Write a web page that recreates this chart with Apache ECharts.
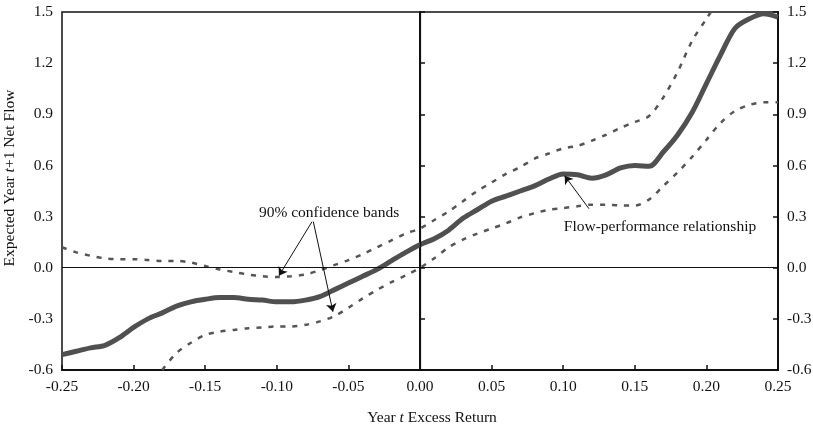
<!DOCTYPE html>
<html>
<head>
<meta charset="utf-8">
<script src="https://cdn.jsdelivr.net/npm/echarts@6/dist/echarts.min.js"></script>
<style>
html,body{margin:0;padding:0;background:#fff;}
#chart{width:813px;height:430px;}
</style>
</head>
<body>
<div id="chart"></div>
<script>
// Year t excess return (x)
var xs = [-0.25,-0.24,-0.23,-0.22,-0.21,-0.20,-0.19,-0.18,-0.17,-0.16,-0.15,-0.14,-0.13,-0.12,-0.11,-0.10,-0.09,-0.08,-0.07,-0.06,-0.05,-0.04,-0.03,-0.02,-0.01,0.00,0.01,0.02,0.03,0.04,0.05,0.06,0.07,0.08,0.09,0.10,0.11,0.12,0.13,0.14,0.15,0.16,0.17,0.18,0.19,0.20,0.21,0.22,0.23,0.24,0.25];
// Flow-performance relationship
var mainVals = [-0.51,-0.49,-0.47,-0.455,-0.41,-0.35,-0.30,-0.265,-0.225,-0.20,-0.185,-0.175,-0.175,-0.185,-0.19,-0.20,-0.20,-0.19,-0.17,-0.13,-0.09,-0.05,-0.01,0.04,0.09,0.135,0.17,0.22,0.29,0.34,0.39,0.42,0.45,0.48,0.52,0.55,0.545,0.525,0.545,0.585,0.60,0.595,0.68,0.78,0.91,1.08,1.25,1.405,1.46,1.49,1.47];
// 90% confidence bands
var upperVals = [0.12,0.09,0.07,0.055,0.05,0.05,0.045,0.04,0.04,0.03,0.01,-0.01,-0.025,-0.04,-0.05,-0.055,-0.05,-0.04,-0.015,0.015,0.045,0.08,0.12,0.16,0.20,0.23,0.28,0.33,0.39,0.45,0.50,0.55,0.59,0.64,0.67,0.70,0.715,0.745,0.78,0.82,0.855,0.89,1.0,1.15,1.33,1.46,1.59,null,null,null,null];
var lowerVals = [null,null,null,null,null,null,null,-0.60,-0.50,-0.44,-0.395,-0.375,-0.365,-0.355,-0.35,-0.345,-0.345,-0.335,-0.315,-0.285,-0.235,-0.18,-0.13,-0.085,-0.045,0.0,0.055,0.12,0.165,0.20,0.23,0.26,0.295,0.32,0.34,0.35,0.36,0.37,0.37,0.365,0.365,0.40,0.48,0.56,0.65,0.75,0.85,0.92,0.955,0.97,0.97];
// axis ticks
var xTicks = {min:-0.25, max:0.25, step:0.05};
var yTicks = {min:-0.6, max:1.5, step:0.3};

function pairs(vals){
  var out = [];
  for (var i=0;i<xs.length;i++){ if (vals[i] !== null) out.push([xs[i], vals[i]]); }
  return out;
}

var FONT = '"Liberation Serif", "DejaVu Serif", serif';
var FS = 15.5;
var chart = echarts.init(document.getElementById('chart'));

var yAxisBase = {
  type:'value', min:yTicks.min, max:yTicks.max, interval:yTicks.step,
  axisLine:{show:true, lineStyle:{color:'#111', width:2}},
  axisTick:{show:true, inside:true, length:5, lineStyle:{color:'#111', width:1.5}},
  axisLabel:{color:'#111', fontFamily:FONT, fontSize:FS, margin:9, formatter:function(v){return v.toFixed(1);}},
  splitLine:{show:false}
};

chart.setOption({
  backgroundColor:'#fff',
  animation:false,
  grid:{left:62, right:35, top:12, bottom:60, outerBoundsMode:'none', containLabel:false, show:true, borderColor:'#111', borderWidth:1.5, backgroundColor:'transparent'},
  xAxis:{
    type:'value', min:xTicks.min, max:xTicks.max, interval:xTicks.step,
    name:'Year {i|t} Excess Return', nameLocation:'middle', nameGap:40,
    nameTextStyle:{color:'#111', fontFamily:FONT, fontSize:FS, padding:[0,0,0,24], rich:{i:{fontStyle:'italic', fontFamily:FONT, fontSize:FS, color:'#111'}}},
    axisLine:{show:true, onZero:false, lineStyle:{color:'#111', width:2}},
    axisTick:{show:true, inside:true, length:5, lineStyle:{color:'#111', width:1.5}},
    axisLabel:{color:'#111', fontFamily:FONT, fontSize:FS, margin:9, formatter:function(v){return v.toFixed(2);}},
    splitLine:{show:false}
  },
  yAxis:[
    Object.assign({}, yAxisBase, {
      position:'left',
      name:'Expected Year {i|t}+1 Net Flow', nameLocation:'middle', nameGap:43,
      nameTextStyle:{color:'#111', fontFamily:FONT, fontSize:FS, padding:[0,0,0,26], rich:{i:{fontStyle:'italic', fontFamily:FONT, fontSize:FS, color:'#111'}}}
    }),
    Object.assign({}, yAxisBase, {position:'right'})
  ],
  series:[
    {
      type:'line', data:pairs(upperVals), showSymbol:false, smooth:0.3, clip:true,
      lineStyle:{color:'#555', width:2.5, type:[5,7]},
      markLine:{
        silent:true, symbol:['none','arrow'], symbolSize:8,
        label:{show:false},
        lineStyle:{color:'#111', width:1, type:'solid'},
        data:[
          [{coord:[-0.0754,0.27]},{coord:[-0.0985,-0.047]}],
          [{coord:[-0.0745,0.27]},{coord:[-0.0608,-0.258]}],
          [{coord:[0.118,0.346]},{coord:[0.101,0.54]}]
        ]
      }
    },
    {
      type:'line', data:pairs(lowerVals), showSymbol:false, smooth:0.3, clip:true,
      lineStyle:{color:'#555', width:2.5, type:[5,7]},
      markPoint:{
        silent:true, symbol:'circle', symbolSize:0,
        label:{show:true, position:'inside', formatter:'{b}', color:'#111', fontFamily:FONT, fontSize:FS},
        data:[
          {name:'90% confidence bands', coord:[-0.0635,0.323]},
          {name:'Flow-performance relationship', coord:[0.1676,0.24]}
        ]
      }
    },
    {
      type:'line', data:pairs(mainVals), showSymbol:false, smooth:0.3, clip:true,
      lineStyle:{color:'#505050', width:5},
      markLine:{
        silent:true, symbol:['none','none'],
        label:{show:false},
        lineStyle:{color:'#111', width:1.2, type:'solid'},
        data:[{yAxis:0},{xAxis:0}]
      }
    }
  ]
});
</script>
</body>
</html>
